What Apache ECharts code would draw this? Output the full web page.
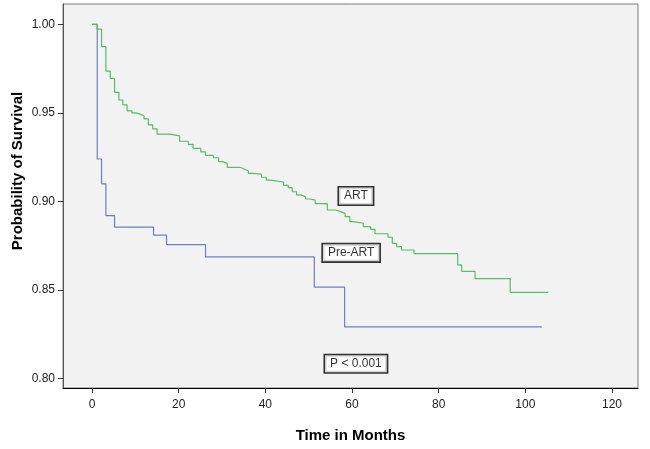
<!DOCTYPE html>
<html>
<head>
<meta charset="utf-8">
<script src="https://cdn.jsdelivr.net/npm/echarts@6/dist/echarts.min.js"></script>
<style>
html,body{margin:0;padding:0;background:#fff;}
#c{width:650px;height:449px;}
</style>
</head>
<body>
<div id="c"></div>
<script>
// ART (green) Kaplan-Meier steps: time (months) where survival drops to value
var artTimes  = [0, 1.2, 2.2, 3.2, 4.2, 5.2, 6.2, 7.1, 8.1, 9.2, 10.2, 11.2, 12, 13, 14, 15, 18, 20.2, 22.2, 23.3, 25.1, 26.2, 28, 29.2, 30.1, 31.2, 34.2, 35.1, 36.1, 37.1, 39.1, 40.2, 41.2, 44.2, 45.3, 46.2, 47.2, 48.2, 49.3, 50.3, 51.5, 54.3, 56.2, 57.4, 58.4, 59.5, 60.3, 62.6, 64.3, 65.3, 68.3, 69.3, 70.3, 71.4, 74.3, 84.4, 85.3, 88.4, 96.5, 105.3];
var artValues = [1.0, 0.9973, 0.9874, 0.9736, 0.9695, 0.9616, 0.9573, 0.9545, 0.9512, 0.950, 0.9492, 0.9484, 0.9466, 0.9432, 0.941, 0.938, 0.937, 0.934, 0.9323, 0.930, 0.928, 0.926, 0.9247, 0.9225, 0.9216, 0.9193, 0.9183, 0.9172, 0.9159, 0.9154, 0.9137, 0.9121, 0.911, 0.9091, 0.9078, 0.9055, 0.9037, 0.9027, 0.9014, 0.9008, 0.8988, 0.8952, 0.8943, 0.8933, 0.8914, 0.8886, 0.8877, 0.8858, 0.8843, 0.8818, 0.8798, 0.8764, 0.8745, 0.8726, 0.8706, 0.8642, 0.8606, 0.8565, 0.8487, 0.8487];

// Pre-ART (blue)
var preTimes  = [0, 1.2, 2.2, 3.2, 5.2, 14.2, 17.2, 26.2, 51.3, 58.3, 103.8];
var preValues = [1.0, 0.924, 0.910, 0.892, 0.8855, 0.881, 0.8756, 0.8687, 0.8516, 0.8292, 0.8292];

var xTicks = [0, 20, 40, 60, 80, 100, 120];
var yTicks = [0.80, 0.85, 0.90, 0.95, 1.00];

// annotation boxes: [time, value, text]
var annTexts  = ['ART', 'Pre-ART', 'P < 0.001'];
var annTimes  = [60.9, 59.8, 60.9];
var annValues = [0.9031, 0.871, 0.8084];

function pairs(xs, ys){ return xs.map(function(x,i){ return [x, ys[i]]; }); }

var chart = echarts.init(document.getElementById('c'), null, {renderer:'canvas'});
var FONT = '"Liberation Sans", Arial, sans-serif';

chart.setOption({
  animation: false,
  backgroundColor: '#ffffff',
  grid: {left: 63, top: 4, right: 12, bottom: 61, show: true, backgroundColor: '#f2f2f2', borderColor: '#7a7a7a', borderWidth: 1},
  xAxis: {
    type: 'value', min: -6.7, max: 126,
    name: 'Time in Months', nameLocation: 'middle', nameGap: 40, nameMoveOverlap: false,
    nameTextStyle: {fontFamily: FONT, fontSize: 15, fontWeight: 'bold', color: '#000'},
    axisLine: {show: true, onZero: false, lineStyle: {color: '#000', width: 1}},
    axisTick: {show: true, customValues: xTicks, length: 5, inside: false, lineStyle: {color: '#333'}},
    axisLabel: {customValues: xTicks, margin: 11, fontFamily: FONT, fontSize: 12, color: '#222'},
    splitLine: {show: false}
  },
  yAxis: {
    type: 'value', min: 0.7947, max: 1.0115,
    name: 'Probability of Survival', nameLocation: 'middle', nameGap: 38, nameMoveOverlap: false,
    nameTextStyle: {fontFamily: FONT, fontSize: 15, fontWeight: 'bold', color: '#000', padding: [0, 0, 0, 50]},
    axisLine: {show: true, onZero: false, lineStyle: {color: '#555', width: 1}},
    axisTick: {show: true, customValues: yTicks, length: 5, lineStyle: {color: '#333'}},
    axisLabel: {customValues: yTicks, margin: 8, fontFamily: FONT, fontSize: 12, color: '#222',
      formatter: function(v){ return v.toFixed(2); }},
    splitLine: {show: false}
  },
  series: [
    {
      name: 'Pre-ART', type: 'line', step: 'end', symbol: 'none',
      data: pairs(preTimes, preValues),
      lineStyle: {color: '#6a7fcb', width: 1.2}, z: 2
    },
    {
      name: 'ART', type: 'line', step: 'end', symbol: 'none',
      data: pairs(artTimes, artValues),
      lineStyle: {color: '#55c062', width: 1.2}, z: 3
    },
    {
      name: 'labels', type: 'scatter', symbolSize: 0, z: 5,
      data: annTimes.map(function(t,i){ return {value: [t, annValues[i]], name: annTexts[i]}; }),
      label: {
        show: true, position: 'inside', formatter: function(p){ return p.name; },
        fontFamily: FONT, fontSize: 12, color: '#000',
        backgroundColor: '#ffffff', borderColor: '#000', borderWidth: 1.6,
        padding: [2, 5, 2, 5], lineHeight: 13
      }
    }
  ]
});
</script>
</body>
</html>
